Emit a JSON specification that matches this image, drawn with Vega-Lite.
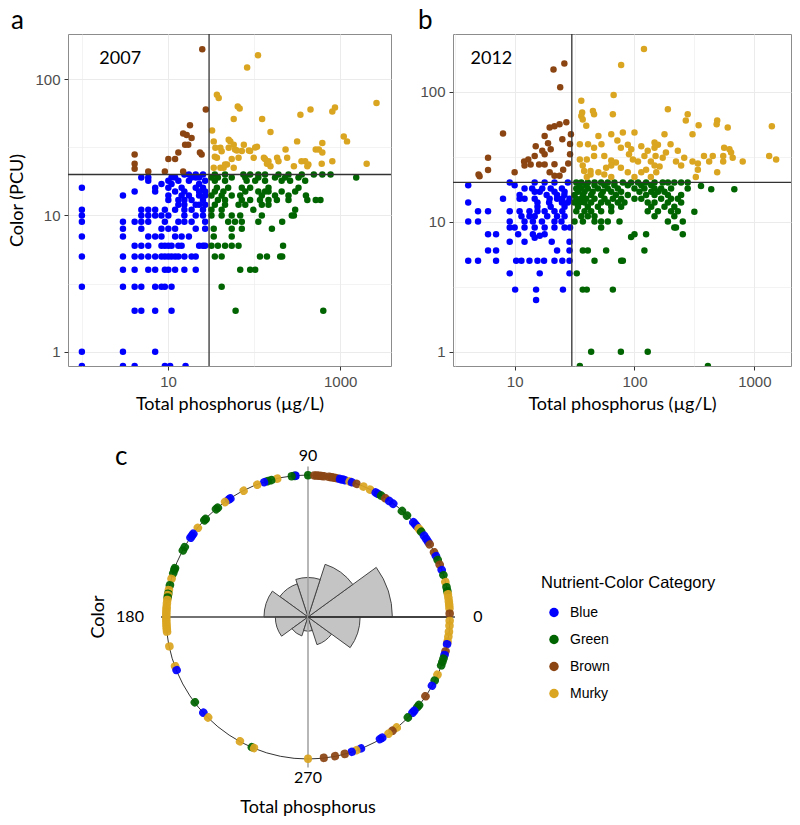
{
"$schema": "https://vega.github.io/schema/vega-lite/v6.json",
"padding": {"left": 8, "top": 7, "right": 0, "bottom": 0},
"background": "white",
"config": {
  "view": {"stroke": "#8C8C8C", "strokeWidth": 1},
  "axis": {"labelFont": "Liberation Sans", "labelFontSize": 15, "labelColor": "#4D4D4D", "titleFont": "Lato", "titleFontSize": 18, "titleFontWeight": "normal", "titleColor": "#000000", "gridColor": "#EBEBEB", "tickColor": "#333333", "tickSize": 4, "domain": false, "labelPadding": 4, "labelOverlap": false},
  "title": {"font": "Lato", "fontSize": 26, "fontWeight": "normal", "anchor": "start", "color": "#000000", "frame": "group"}
},
"resolve": {"legend": {"color": "independent"}},
"datasets": {
"a": [
{"tp":1,"pcu":16,"cat":"Blue"},{"tp":1,"pcu":11,"cat":"Blue"},{"tp":1,"pcu":10,"cat":"Blue"},{"tp":1,"pcu":9,"cat":"Blue"},{"tp":1,"pcu":7,"cat":"Blue"},{"tp":1,"pcu":5,"cat":"Blue"},{"tp":1,"pcu":3,"cat":"Blue"},{"tp":1,"pcu":1,"cat":"Blue"},{"tp":1,"pcu":0.785,"cat":"Blue"},
{"tp":3,"pcu":14,"cat":"Blue"},{"tp":3,"pcu":9,"cat":"Blue"},{"tp":3,"pcu":8,"cat":"Blue"},{"tp":3,"pcu":7,"cat":"Blue"},{"tp":3,"pcu":5,"cat":"Blue"},{"tp":3,"pcu":4,"cat":"Blue"},{"tp":3,"pcu":3,"cat":"Blue"},{"tp":3,"pcu":1,"cat":"Blue"},{"tp":3,"pcu":0.785,"cat":"Blue"},
{"tp":4.1,"pcu":15,"cat":"Blue"},{"tp":4.1,"pcu":9,"cat":"Blue"},{"tp":4.1,"pcu":6,"cat":"Blue"},{"tp":4.1,"pcu":5,"cat":"Blue"},{"tp":4.1,"pcu":4,"cat":"Blue"},{"tp":4.1,"pcu":3,"cat":"Blue"},{"tp":4.1,"pcu":2,"cat":"Blue"},{"tp":4.1,"pcu":0.785,"cat":"Blue"},
{"tp":4.9,"pcu":19,"cat":"Blue"},{"tp":4.9,"pcu":11,"cat":"Blue"},{"tp":4.9,"pcu":10,"cat":"Blue"},{"tp":4.9,"pcu":9,"cat":"Blue"},{"tp":4.9,"pcu":8,"cat":"Blue"},{"tp":4.9,"pcu":6,"cat":"Blue"},{"tp":4.9,"pcu":5,"cat":"Blue"},{"tp":4.9,"pcu":3,"cat":"Blue"},{"tp":4.9,"pcu":2,"cat":"Blue"},
{"tp":5.9,"pcu":19,"cat":"Blue"},{"tp":5.9,"pcu":18,"cat":"Blue"},{"tp":5.9,"pcu":11,"cat":"Blue"},{"tp":5.9,"pcu":10,"cat":"Blue"},{"tp":5.9,"pcu":9,"cat":"Blue"},{"tp":5.9,"pcu":7,"cat":"Blue"},{"tp":5.9,"pcu":6,"cat":"Blue"},{"tp":5.9,"pcu":5,"cat":"Blue"},{"tp":5.9,"pcu":4,"cat":"Blue"},
{"tp":7.1,"pcu":16,"cat":"Blue"},{"tp":7.1,"pcu":15,"cat":"Blue"},{"tp":7.1,"pcu":11,"cat":"Blue"},{"tp":7.1,"pcu":10,"cat":"Blue"},{"tp":7.1,"pcu":7,"cat":"Blue"},{"tp":7.1,"pcu":5,"cat":"Blue"},{"tp":7.1,"pcu":4,"cat":"Blue"},{"tp":7.1,"pcu":3,"cat":"Blue"},{"tp":7.1,"pcu":2,"cat":"Blue"},{"tp":7.1,"pcu":1,"cat":"Blue"},
{"tp":8.4,"pcu":17,"cat":"Blue"},{"tp":8.4,"pcu":10,"cat":"Blue"},{"tp":8.4,"pcu":8,"cat":"Blue"},{"tp":8.4,"pcu":7,"cat":"Blue"},{"tp":8.4,"pcu":6,"cat":"Blue"},{"tp":8.4,"pcu":5,"cat":"Blue"},{"tp":8.4,"pcu":3,"cat":"Blue"},
{"tp":9.2,"pcu":11,"cat":"Blue"},{"tp":9.2,"pcu":9,"cat":"Blue"},{"tp":9.2,"pcu":6,"cat":"Blue"},{"tp":9.2,"pcu":5,"cat":"Blue"},{"tp":9.2,"pcu":4,"cat":"Blue"},{"tp":9.2,"pcu":3,"cat":"Blue"},{"tp":9.2,"pcu":0.785,"cat":"Blue"},
{"tp":10.1,"pcu":18,"cat":"Blue"},{"tp":10.1,"pcu":16,"cat":"Blue"},{"tp":10.1,"pcu":14,"cat":"Blue"},{"tp":10.1,"pcu":13,"cat":"Blue"},{"tp":10.1,"pcu":10,"cat":"Blue"},{"tp":10.1,"pcu":8,"cat":"Blue"},{"tp":10.1,"pcu":6,"cat":"Blue"},{"tp":10.1,"pcu":5,"cat":"Blue"},{"tp":10.1,"pcu":4,"cat":"Blue"},{"tp":10.6,"pcu":0.785,"cat":"Blue"},
{"tp":11,"pcu":19,"cat":"Blue"},{"tp":11,"pcu":17,"cat":"Blue"},{"tp":11,"pcu":6,"cat":"Blue"},{"tp":11,"pcu":5,"cat":"Blue"},{"tp":11,"pcu":3,"cat":"Blue"},{"tp":11,"pcu":2,"cat":"Blue"},
{"tp":12.1,"pcu":19,"cat":"Blue"},{"tp":12.1,"pcu":15,"cat":"Blue"},{"tp":12.1,"pcu":11,"cat":"Blue"},{"tp":12.1,"pcu":8,"cat":"Blue"},{"tp":12.1,"pcu":7,"cat":"Blue"},{"tp":12.1,"pcu":5,"cat":"Blue"},{"tp":12.1,"pcu":4,"cat":"Blue"},
{"tp":13.2,"pcu":18,"cat":"Blue"},{"tp":13.2,"pcu":13,"cat":"Blue"},{"tp":13.2,"pcu":12,"cat":"Blue"},{"tp":13.2,"pcu":9,"cat":"Blue"},{"tp":13.2,"pcu":6,"cat":"Blue"},{"tp":13.2,"pcu":5,"cat":"Blue"},
{"tp":14.4,"pcu":16,"cat":"Blue"},{"tp":14.4,"pcu":14,"cat":"Blue"},{"tp":14.4,"pcu":7,"cat":"Blue"},{"tp":14.4,"pcu":6,"cat":"Blue"},
{"tp":15.5,"pcu":20,"cat":"Blue"},{"tp":15.5,"pcu":15,"cat":"Blue"},{"tp":15.5,"pcu":13,"cat":"Blue"},{"tp":15.5,"pcu":12,"cat":"Blue"},{"tp":15.5,"pcu":11,"cat":"Blue"},{"tp":15.5,"pcu":10,"cat":"Blue"},{"tp":15.5,"pcu":9,"cat":"Blue"},{"tp":15.5,"pcu":5,"cat":"Blue"},{"tp":15.5,"pcu":4,"cat":"Blue"},{"tp":16,"pcu":0.785,"cat":"Blue"},
{"tp":17.5,"pcu":20,"cat":"Blue"},{"tp":17.5,"pcu":18,"cat":"Blue"},{"tp":17.5,"pcu":14,"cat":"Blue"},{"tp":17.5,"pcu":7,"cat":"Blue"},
{"tp":18.8,"pcu":19,"cat":"Blue"},{"tp":18.8,"pcu":13,"cat":"Blue"},{"tp":18.8,"pcu":11,"cat":"Blue"},{"tp":18.8,"pcu":9,"cat":"Blue"},{"tp":18.8,"pcu":5,"cat":"Blue"},
{"tp":21,"pcu":20,"cat":"Blue"},{"tp":21,"pcu":19,"cat":"Blue"},{"tp":21,"pcu":16,"cat":"Blue"},{"tp":21,"pcu":12,"cat":"Blue"},{"tp":21,"pcu":10,"cat":"Blue"},{"tp":21,"pcu":8,"cat":"Blue"},{"tp":21,"pcu":5,"cat":"Blue"},{"tp":21,"pcu":4,"cat":"Blue"},
{"tp":23,"pcu":19,"cat":"Blue"},{"tp":23,"pcu":17,"cat":"Blue"},{"tp":23,"pcu":15,"cat":"Blue"},{"tp":23,"pcu":14,"cat":"Blue"},{"tp":23,"pcu":12,"cat":"Blue"},{"tp":23,"pcu":6,"cat":"Blue"},
{"tp":25.5,"pcu":20,"cat":"Blue"},{"tp":25.5,"pcu":16,"cat":"Blue"},{"tp":25.5,"pcu":13,"cat":"Blue"},{"tp":25.5,"pcu":11,"cat":"Blue"},{"tp":25.5,"pcu":10,"cat":"Blue"},{"tp":25.5,"pcu":6,"cat":"Blue"},
{"tp":27,"pcu":18,"cat":"Blue"},{"tp":27,"pcu":15,"cat":"Blue"},{"tp":27,"pcu":14,"cat":"Blue"},{"tp":27,"pcu":12,"cat":"Blue"},{"tp":27,"pcu":9,"cat":"Blue"},{"tp":27,"pcu":8,"cat":"Blue"},{"tp":27,"pcu":6,"cat":"Blue"},
{"tp":35,"pcu":20,"cat":"Green"},{"tp":46,"pcu":20,"cat":"Green"},{"tp":75,"pcu":20,"cat":"Green"},{"tp":90,"pcu":20,"cat":"Green"},{"tp":112,"pcu":20,"cat":"Green"},{"tp":134,"pcu":20,"cat":"Green"},{"tp":192,"pcu":20,"cat":"Green"},{"tp":251,"pcu":20,"cat":"Green"},{"tp":358,"pcu":20,"cat":"Green"},{"tp":494,"pcu":20,"cat":"Green"},{"tp":620,"pcu":20,"cat":"Green"},{"tp":773,"pcu":20,"cat":"Green"},
{"tp":32,"pcu":19,"cat":"Green"},{"tp":38,"pcu":19,"cat":"Green"},{"tp":55,"pcu":19,"cat":"Green"},{"tp":79,"pcu":19,"cat":"Green"},{"tp":112,"pcu":19,"cat":"Green"},{"tp":175,"pcu":19,"cat":"Green"},{"tp":229,"pcu":19,"cat":"Green"},{"tp":328,"pcu":19,"cat":"Green"},{"tp":1535,"pcu":19,"cat":"Green"},
{"tp":35,"pcu":18,"cat":"Green"},{"tp":46,"pcu":18,"cat":"Green"},{"tp":82,"pcu":18,"cat":"Green"},{"tp":103,"pcu":18,"cat":"Green"},{"tp":134,"pcu":18,"cat":"Green"},{"tp":209,"pcu":18,"cat":"Green"},{"tp":262,"pcu":18,"cat":"Green"},{"tp":392,"pcu":18,"cat":"Green"},
{"tp":37,"pcu":16,"cat":"Green"},{"tp":50,"pcu":16,"cat":"Green"},{"tp":72,"pcu":16,"cat":"Green"},{"tp":90,"pcu":16,"cat":"Green"},{"tp":147,"pcu":16,"cat":"Green"},{"tp":328,"pcu":16,"cat":"Green"},
{"tp":35,"pcu":15,"cat":"Green"},{"tp":44,"pcu":15,"cat":"Green"},{"tp":79,"pcu":15,"cat":"Green"},{"tp":112,"pcu":15,"cat":"Green"},{"tp":134,"pcu":15,"cat":"Green"},{"tp":147,"pcu":15,"cat":"Green"},{"tp":209,"pcu":15,"cat":"Green"},{"tp":300,"pcu":15,"cat":"Green"},
{"tp":32,"pcu":14,"cat":"Green"},{"tp":42,"pcu":14,"cat":"Green"},{"tp":55,"pcu":14,"cat":"Green"},{"tp":69,"pcu":14,"cat":"Green"},{"tp":123,"pcu":14,"cat":"Green"},{"tp":175,"pcu":14,"cat":"Green"},{"tp":251,"pcu":14,"cat":"Green"},{"tp":400,"pcu":14,"cat":"Green"},
{"tp":38,"pcu":13,"cat":"Green"},{"tp":46,"pcu":13,"cat":"Green"},{"tp":72,"pcu":13,"cat":"Green"},{"tp":90,"pcu":13,"cat":"Green"},{"tp":117,"pcu":13,"cat":"Green"},{"tp":147,"pcu":13,"cat":"Green"},{"tp":184,"pcu":13,"cat":"Green"},{"tp":251,"pcu":13,"cat":"Green"},{"tp":415,"pcu":13,"cat":"Green"},{"tp":520,"pcu":13,"cat":"Green"},{"tp":590,"pcu":13,"cat":"Green"},
{"tp":35,"pcu":12,"cat":"Green"},{"tp":46,"pcu":12,"cat":"Green"},{"tp":66,"pcu":12,"cat":"Green"},{"tp":79,"pcu":12,"cat":"Green"},{"tp":123,"pcu":12,"cat":"Green"},{"tp":147,"pcu":12,"cat":"Green"},
{"tp":32,"pcu":11,"cat":"Green"},{"tp":42,"pcu":11,"cat":"Green"},{"tp":98,"pcu":11,"cat":"Green"},{"tp":300,"pcu":11,"cat":"Green"},
{"tp":32,"pcu":10,"cat":"Green"},{"tp":42,"pcu":10,"cat":"Green"},{"tp":55,"pcu":10,"cat":"Green"},{"tp":69,"pcu":10,"cat":"Green"},{"tp":123,"pcu":10,"cat":"Green"},{"tp":274,"pcu":10,"cat":"Green"},{"tp":290,"pcu":10,"cat":"Green"},
{"tp":50,"pcu":9,"cat":"Green"},{"tp":60,"pcu":9,"cat":"Green"},{"tp":72,"pcu":9,"cat":"Green"},{"tp":112,"pcu":9,"cat":"Green"},{"tp":212,"pcu":9,"cat":"Green"},
{"tp":34,"pcu":8,"cat":"Green"},{"tp":55,"pcu":8,"cat":"Green"},{"tp":72,"pcu":8,"cat":"Green"},{"tp":161,"pcu":8,"cat":"Green"},
{"tp":34,"pcu":7,"cat":"Green"},{"tp":55,"pcu":7,"cat":"Green"},
{"tp":32,"pcu":6,"cat":"Green"},{"tp":38,"pcu":6,"cat":"Green"},{"tp":46,"pcu":6,"cat":"Green"},{"tp":55,"pcu":6,"cat":"Green"},{"tp":66,"pcu":6,"cat":"Green"},{"tp":217,"pcu":6,"cat":"Green"},
{"tp":35,"pcu":5,"cat":"Green"},{"tp":42,"pcu":5,"cat":"Green"},{"tp":117,"pcu":5,"cat":"Green"},{"tp":141,"pcu":5,"cat":"Green"},{"tp":201,"pcu":5,"cat":"Green"},{"tp":212,"pcu":5,"cat":"Green"},
{"tp":69,"pcu":4,"cat":"Green"},{"tp":90,"pcu":4,"cat":"Green"},{"tp":103,"pcu":4,"cat":"Green"},
{"tp":42,"pcu":3,"cat":"Green"},{"tp":61,"pcu":2,"cat":"Green"},{"tp":636,"pcu":2,"cat":"Green"},
{"tp":4.1,"pcu":28,"cat":"Brown"},{"tp":4.1,"pcu":24,"cat":"Brown"},{"tp":4.1,"pcu":22,"cat":"Brown"},{"tp":5.9,"pcu":21,"cat":"Brown"},{"tp":9.2,"pcu":21,"cat":"Brown"},{"tp":10.1,"pcu":26,"cat":"Brown"},{"tp":12.1,"pcu":26,"cat":"Brown"},{"tp":13.2,"pcu":29,"cat":"Brown"},{"tp":15,"pcu":21,"cat":"Brown"},{"tp":15.8,"pcu":33,"cat":"Brown"},{"tp":17.2,"pcu":33,"cat":"Brown"},{"tp":15,"pcu":40,"cat":"Brown"},{"tp":16.5,"pcu":39,"cat":"Brown"},{"tp":18.8,"pcu":37,"cat":"Brown"},{"tp":18,"pcu":46,"cat":"Brown"},{"tp":23.5,"pcu":29,"cat":"Brown"},{"tp":24.6,"pcu":28,"cat":"Brown"},{"tp":27.5,"pcu":60,"cat":"Brown"},{"tp":25,"pcu":166,"cat":"Brown"},
{"tp":38.8,"pcu":73,"cat":"Murky"},{"tp":37,"pcu":77,"cat":"Murky"},{"tp":83,"pcu":122,"cat":"Murky"},{"tp":111,"pcu":150,"cat":"Murky"},{"tp":64.6,"pcu":63,"cat":"Murky"},{"tp":68,"pcu":61,"cat":"Murky"},{"tp":58,"pcu":51,"cat":"Murky"},{"tp":124,"pcu":51,"cat":"Murky"},{"tp":32.5,"pcu":42,"cat":"Murky"},{"tp":50.7,"pcu":36,"cat":"Murky"},{"tp":53,"pcu":35,"cat":"Murky"},{"tp":155,"pcu":41,"cat":"Murky"},{"tp":316,"pcu":35,"cat":"Murky"},{"tp":345,"pcu":55,"cat":"Murky"},{"tp":452,"pcu":60,"cat":"Murky"},{"tp":810,"pcu":58,"cat":"Murky"},{"tp":870,"pcu":62,"cat":"Murky"},{"tp":2640,"pcu":67,"cat":"Murky"},{"tp":1100,"pcu":38,"cat":"Murky"},{"tp":1200,"pcu":35,"cat":"Murky"},{"tp":620,"pcu":34,"cat":"Murky"},{"tp":620,"pcu":29,"cat":"Murky"},{"tp":520,"pcu":30.5,"cat":"Murky"},{"tp":565,"pcu":30.5,"cat":"Murky"},{"tp":2030,"pcu":24,"cat":"Murky"},{"tp":810,"pcu":25,"cat":"Murky"},{"tp":610,"pcu":24,"cat":"Murky"},{"tp":415,"pcu":23,"cat":"Murky"},{"tp":355,"pcu":25,"cat":"Murky"},{"tp":232,"pcu":30.5,"cat":"Murky"},{"tp":185,"pcu":26.5,"cat":"Murky"},{"tp":141,"pcu":24,"cat":"Murky"},{"tp":155,"pcu":23,"cat":"Murky"},{"tp":108,"pcu":32,"cat":"Murky"},{"tp":76,"pcu":33,"cat":"Murky"},{"tp":99,"pcu":26.5,"cat":"Murky"},{"tp":130,"pcu":26.5,"cat":"Murky"},{"tp":63,"pcu":30,"cat":"Murky"},{"tp":66,"pcu":26.5,"cat":"Murky"},{"tp":50.7,"pcu":31.4,"cat":"Murky"},{"tp":40.6,"pcu":31.4,"cat":"Murky"},{"tp":35.5,"pcu":31.4,"cat":"Murky"},{"tp":37,"pcu":26.5,"cat":"Murky"},{"tp":40.6,"pcu":22.4,"cat":"Murky"},{"tp":34,"pcu":22.4,"cat":"Murky"},{"tp":44.3,"pcu":22.4,"cat":"Murky"},{"tp":48.5,"pcu":23.7,"cat":"Murky"},{"tp":58,"pcu":22.4,"cat":"Murky"},{"tp":34,"pcu":35,"cat":"Murky"},{"tp":58,"pcu":33,"cat":"Murky"},{"tp":87,"pcu":30,"cat":"Murky"},{"tp":242,"pcu":26.5,"cat":"Murky"},{"tp":290,"pcu":23,"cat":"Murky"},{"tp":42,"pcu":29.6,"cat":"Murky"},{"tp":35,"pcu":27,"cat":"Murky"},{"tp":46,"pcu":23.7,"cat":"Murky"},{"tp":55,"pcu":26,"cat":"Murky"},{"tp":60,"pcu":30.5,"cat":"Murky"},{"tp":72,"pcu":29.7,"cat":"Murky"},{"tp":90,"pcu":29.7,"cat":"Murky"},{"tp":103,"pcu":31.5,"cat":"Murky"},{"tp":134,"pcu":26,"cat":"Murky"},{"tp":147,"pcu":25,"cat":"Murky"},{"tp":192,"pcu":25,"cat":"Murky"},{"tp":427,"pcu":23.7,"cat":"Murky"},{"tp":392,"pcu":25,"cat":"Murky"}
],
"b": [
{"tp":9.1,"pcu":20,"cat":"Blue"},{"tp":14.7,"pcu":20,"cat":"Blue"},{"tp":17.8,"pcu":20,"cat":"Blue"},{"tp":21.5,"pcu":20,"cat":"Blue"},{"tp":27.8,"pcu":20,"cat":"Blue"},
{"tp":4.1,"pcu":19,"cat":"Blue"},{"tp":10,"pcu":19,"cat":"Blue"},
{"tp":12.1,"pcu":18,"cat":"Blue"},{"tp":14,"pcu":18,"cat":"Blue"},{"tp":17,"pcu":18,"cat":"Blue"},{"tp":20,"pcu":18,"cat":"Blue"},{"tp":24.8,"pcu":18,"cat":"Blue"},
{"tp":14.7,"pcu":17,"cat":"Blue"},{"tp":16.2,"pcu":17,"cat":"Blue"},{"tp":21.5,"pcu":17,"cat":"Blue"},{"tp":26.1,"pcu":17,"cat":"Blue"},
{"tp":11,"pcu":16,"cat":"Blue"},{"tp":18.5,"pcu":16,"cat":"Blue"},{"tp":22.6,"pcu":16,"cat":"Blue"},{"tp":26,"pcu":16,"cat":"Blue"},
{"tp":8,"pcu":15,"cat":"Blue"},{"tp":11,"pcu":15,"cat":"Blue"},{"tp":12.1,"pcu":15,"cat":"Blue"},{"tp":14.7,"pcu":15,"cat":"Blue"},{"tp":19.6,"pcu":15,"cat":"Blue"},{"tp":22.6,"pcu":15,"cat":"Blue"},{"tp":25,"pcu":15,"cat":"Blue"},{"tp":28.7,"pcu":15,"cat":"Blue"},
{"tp":4.1,"pcu":14,"cat":"Blue"},{"tp":15.5,"pcu":14,"cat":"Blue"},{"tp":19.4,"pcu":14,"cat":"Blue"},{"tp":24.8,"pcu":14,"cat":"Blue"},{"tp":27.8,"pcu":14,"cat":"Blue"},
{"tp":15.5,"pcu":13,"cat":"Blue"},{"tp":20,"pcu":13,"cat":"Blue"},{"tp":26.1,"pcu":13,"cat":"Blue"},
{"tp":4.95,"pcu":12,"cat":"Blue"},{"tp":6,"pcu":12,"cat":"Blue"},{"tp":9.1,"pcu":12,"cat":"Blue"},{"tp":11,"pcu":12,"cat":"Blue"},{"tp":13.3,"pcu":12,"cat":"Blue"},{"tp":15.5,"pcu":12,"cat":"Blue"},{"tp":17.8,"pcu":12,"cat":"Blue"},{"tp":21.5,"pcu":12,"cat":"Blue"},{"tp":25,"pcu":12,"cat":"Blue"},
{"tp":11.4,"pcu":11,"cat":"Blue"},{"tp":13.3,"pcu":11,"cat":"Blue"},{"tp":14.7,"pcu":11,"cat":"Blue"},{"tp":18.7,"pcu":11,"cat":"Blue"},{"tp":22.6,"pcu":11,"cat":"Blue"},{"tp":26.1,"pcu":11,"cat":"Blue"},
{"tp":4.1,"pcu":10,"cat":"Blue"},{"tp":4.95,"pcu":10,"cat":"Blue"},{"tp":9.1,"pcu":10,"cat":"Blue"},{"tp":12.1,"pcu":10,"cat":"Blue"},{"tp":14.2,"pcu":10,"cat":"Blue"},{"tp":16.9,"pcu":10,"cat":"Blue"},{"tp":21.5,"pcu":10,"cat":"Blue"},{"tp":24.6,"pcu":10,"cat":"Blue"},
{"tp":9.1,"pcu":9,"cat":"Blue"},{"tp":10,"pcu":9,"cat":"Blue"},{"tp":12.1,"pcu":9,"cat":"Blue"},{"tp":14.7,"pcu":9,"cat":"Blue"},{"tp":17.8,"pcu":9,"cat":"Blue"},{"tp":21.5,"pcu":9,"cat":"Blue"},{"tp":26.1,"pcu":9,"cat":"Blue"},{"tp":29,"pcu":9,"cat":"Blue"},
{"tp":6,"pcu":8,"cat":"Blue"},{"tp":7,"pcu":8,"cat":"Blue"},{"tp":10.7,"pcu":8,"cat":"Blue"},{"tp":14.2,"pcu":8,"cat":"Blue"},{"tp":17.8,"pcu":8,"cat":"Blue"},
{"tp":9.1,"pcu":7,"cat":"Blue"},{"tp":12.1,"pcu":7,"cat":"Blue"},{"tp":14.7,"pcu":7.5,"cat":"Blue"},{"tp":16.2,"pcu":7.8,"cat":"Blue"},{"tp":20.4,"pcu":7,"cat":"Blue"},{"tp":28.7,"pcu":7,"cat":"Blue"},
{"tp":6,"pcu":6,"cat":"Blue"},{"tp":7,"pcu":6,"cat":"Blue"},{"tp":22.6,"pcu":6,"cat":"Blue"},{"tp":28.7,"pcu":6,"cat":"Blue"},
{"tp":4.1,"pcu":5,"cat":"Blue"},{"tp":4.95,"pcu":5,"cat":"Blue"},{"tp":7,"pcu":5,"cat":"Blue"},{"tp":10.3,"pcu":5,"cat":"Blue"},{"tp":11.4,"pcu":5,"cat":"Blue"},{"tp":13.3,"pcu":5,"cat":"Blue"},{"tp":15.5,"pcu":5,"cat":"Blue"},{"tp":17.6,"pcu":5,"cat":"Blue"},{"tp":21.5,"pcu":5,"cat":"Blue"},{"tp":25,"pcu":5,"cat":"Blue"},{"tp":28.7,"pcu":5,"cat":"Blue"},
{"tp":9.1,"pcu":4,"cat":"Blue"},{"tp":16.2,"pcu":4,"cat":"Blue"},{"tp":28.7,"pcu":4,"cat":"Blue"},
{"tp":10.1,"pcu":3,"cat":"Blue"},{"tp":15.1,"pcu":3,"cat":"Blue"},{"tp":25.3,"pcu":3,"cat":"Blue"},{"tp":15.1,"pcu":2.5,"cat":"Blue"},
{"tp":32.7,"pcu":20,"cat":"Green"},{"tp":36,"pcu":20,"cat":"Green"},{"tp":40.8,"pcu":20,"cat":"Green"},{"tp":46.4,"pcu":20,"cat":"Green"},{"tp":52.7,"pcu":20,"cat":"Green"},{"tp":59.9,"pcu":20,"cat":"Green"},{"tp":68,"pcu":20,"cat":"Green"},{"tp":80,"pcu":20,"cat":"Green"},{"tp":93.7,"pcu":20,"cat":"Green"},{"tp":107,"pcu":20,"cat":"Green"},{"tp":125,"pcu":20,"cat":"Green"},{"tp":147,"pcu":20,"cat":"Green"},{"tp":172,"pcu":20,"cat":"Green"},{"tp":190,"pcu":20,"cat":"Green"},{"tp":215,"pcu":20,"cat":"Green"},{"tp":245,"pcu":20,"cat":"Green"},{"tp":278,"pcu":20,"cat":"Green"},
{"tp":34.8,"pcu":19,"cat":"Green"},{"tp":39.6,"pcu":19,"cat":"Green"},{"tp":46.4,"pcu":19,"cat":"Green"},{"tp":56.2,"pcu":19,"cat":"Green"},{"tp":68,"pcu":19,"cat":"Green"},{"tp":88,"pcu":19,"cat":"Green"},{"tp":114,"pcu":19,"cat":"Green"},{"tp":138,"pcu":19,"cat":"Green"},{"tp":359,"pcu":18.8,"cat":"Green"},
{"tp":32.7,"pcu":18,"cat":"Green"},{"tp":36,"pcu":18,"cat":"Green"},{"tp":40.8,"pcu":18,"cat":"Green"},{"tp":49.5,"pcu":18,"cat":"Green"},{"tp":59.9,"pcu":18,"cat":"Green"},{"tp":72.6,"pcu":18,"cat":"Green"},{"tp":100,"pcu":18,"cat":"Green"},{"tp":121,"pcu":18,"cat":"Green"},{"tp":147,"pcu":18,"cat":"Green"},{"tp":167,"pcu":18,"cat":"Green"},{"tp":202,"pcu":18,"cat":"Green"},{"tp":278,"pcu":18,"cat":"Green"},{"tp":437,"pcu":17.7,"cat":"Green"},{"tp":681,"pcu":17.7,"cat":"Green"},
{"tp":33.8,"pcu":17,"cat":"Green"},{"tp":38.3,"pcu":17,"cat":"Green"},{"tp":44.8,"pcu":17,"cat":"Green"},{"tp":54.4,"pcu":17,"cat":"Green"},{"tp":64,"pcu":17,"cat":"Green"},{"tp":77.4,"pcu":17,"cat":"Green"},{"tp":110,"pcu":17,"cat":"Green"},{"tp":138,"pcu":17,"cat":"Green"},{"tp":157,"pcu":17,"cat":"Green"},{"tp":178,"pcu":17,"cat":"Green"},
{"tp":31.6,"pcu":16,"cat":"Green"},{"tp":37.1,"pcu":16,"cat":"Green"},{"tp":43.5,"pcu":16,"cat":"Green"},{"tp":52.7,"pcu":16,"cat":"Green"},{"tp":70,"pcu":16,"cat":"Green"},{"tp":88,"pcu":16,"cat":"Green"},{"tp":125,"pcu":16,"cat":"Green"},{"tp":147,"pcu":16,"cat":"Green"},{"tp":190,"pcu":16,"cat":"Green"},{"tp":245,"pcu":16,"cat":"Green"},
{"tp":32.7,"pcu":15,"cat":"Green"},{"tp":36,"pcu":15,"cat":"Green"},{"tp":39.6,"pcu":15,"cat":"Green"},{"tp":46.4,"pcu":15,"cat":"Green"},{"tp":56.2,"pcu":15,"cat":"Green"},{"tp":66,"pcu":15,"cat":"Green"},{"tp":77.4,"pcu":15,"cat":"Green"},{"tp":100,"pcu":15,"cat":"Green"},{"tp":114,"pcu":15,"cat":"Green"},{"tp":167,"pcu":15,"cat":"Green"},{"tp":202,"pcu":15,"cat":"Green"},{"tp":230,"pcu":15,"cat":"Green"},
{"tp":31.6,"pcu":14,"cat":"Green"},{"tp":34.8,"pcu":14,"cat":"Green"},{"tp":38.3,"pcu":14,"cat":"Green"},{"tp":43.5,"pcu":14,"cat":"Green"},{"tp":52.7,"pcu":14,"cat":"Green"},{"tp":59.9,"pcu":14,"cat":"Green"},{"tp":72.6,"pcu":14,"cat":"Green"},{"tp":82.5,"pcu":14,"cat":"Green"},{"tp":129,"pcu":14,"cat":"Green"},{"tp":147,"pcu":14,"cat":"Green"},{"tp":190,"pcu":14,"cat":"Green"},{"tp":245,"pcu":14,"cat":"Green"},
{"tp":33.8,"pcu":13,"cat":"Green"},{"tp":40.8,"pcu":13,"cat":"Green"},{"tp":49.5,"pcu":13,"cat":"Green"},{"tp":64,"pcu":13,"cat":"Green"},{"tp":77.4,"pcu":13,"cat":"Green"},{"tp":138,"pcu":13,"cat":"Green"},{"tp":178,"pcu":13,"cat":"Green"},{"tp":215,"pcu":13,"cat":"Green"},
{"tp":32.7,"pcu":12,"cat":"Green"},{"tp":38.3,"pcu":12,"cat":"Green"},{"tp":43.5,"pcu":12,"cat":"Green"},{"tp":52.7,"pcu":12,"cat":"Green"},{"tp":64,"pcu":12,"cat":"Green"},{"tp":129,"pcu":12,"cat":"Green"},{"tp":157,"pcu":12,"cat":"Green"},{"tp":202,"pcu":12,"cat":"Green"},{"tp":230,"pcu":12,"cat":"Green"},{"tp":316,"pcu":11.9,"cat":"Green"},
{"tp":36,"pcu":11,"cat":"Green"},{"tp":40.8,"pcu":11,"cat":"Green"},{"tp":46.4,"pcu":11,"cat":"Green"},{"tp":147,"pcu":11,"cat":"Green"},{"tp":215,"pcu":11,"cat":"Green"},
{"tp":31.6,"pcu":10,"cat":"Green"},{"tp":37.1,"pcu":10,"cat":"Green"},{"tp":46.4,"pcu":10,"cat":"Green"},{"tp":52.7,"pcu":10,"cat":"Green"},{"tp":59.9,"pcu":10,"cat":"Green"},{"tp":75,"pcu":10,"cat":"Green"},{"tp":190,"pcu":10,"cat":"Green"},{"tp":253,"pcu":10,"cat":"Green"},
{"tp":52.7,"pcu":9,"cat":"Green"},{"tp":215,"pcu":9,"cat":"Green"},{"tp":222,"pcu":9,"cat":"Green"},
{"tp":93.7,"pcu":7.6,"cat":"Green"},{"tp":100,"pcu":8,"cat":"Green"},{"tp":125,"pcu":8,"cat":"Green"},{"tp":253,"pcu":8,"cat":"Green"},
{"tp":37.1,"pcu":6,"cat":"Green"},{"tp":40.8,"pcu":6,"cat":"Green"},{"tp":58,"pcu":6,"cat":"Green"},{"tp":121,"pcu":6,"cat":"Green"},
{"tp":46.4,"pcu":5,"cat":"Green"},{"tp":77.4,"pcu":5,"cat":"Green"},{"tp":80,"pcu":5,"cat":"Green"},{"tp":33,"pcu":4,"cat":"Green"},
{"tp":37,"pcu":3,"cat":"Green"},{"tp":40,"pcu":3,"cat":"Green"},{"tp":66,"pcu":3,"cat":"Green"},
{"tp":43.5,"pcu":1,"cat":"Green"},{"tp":77,"pcu":1,"cat":"Green"},{"tp":129,"pcu":1,"cat":"Green"},{"tp":35,"pcu":0.776,"cat":"Green"},{"tp":410,"pcu":0.776,"cat":"Green"},
{"tp":8,"pcu":47.5,"cat":"Brown"},{"tp":6,"pcu":31,"cat":"Brown"},{"tp":6,"pcu":24.9,"cat":"Brown"},{"tp":5,"pcu":23,"cat":"Brown"},{"tp":5.1,"pcu":22.3,"cat":"Brown"},{"tp":10,"pcu":24,"cat":"Brown"},{"tp":12,"pcu":29,"cat":"Brown"},{"tp":13,"pcu":30,"cat":"Brown"},{"tp":14.7,"pcu":32,"cat":"Brown"},{"tp":12.1,"pcu":27,"cat":"Brown"},{"tp":13.6,"pcu":27.5,"cat":"Brown"},{"tp":15,"pcu":38,"cat":"Brown"},{"tp":17.8,"pcu":45.6,"cat":"Brown"},{"tp":19.6,"pcu":53,"cat":"Brown"},{"tp":21.5,"pcu":54,"cat":"Brown"},{"tp":23.7,"pcu":56,"cat":"Brown"},{"tp":27,"pcu":58,"cat":"Brown"},{"tp":19,"pcu":40,"cat":"Brown"},{"tp":20,"pcu":36,"cat":"Brown"},{"tp":17,"pcu":35,"cat":"Brown"},{"tp":17.8,"pcu":33,"cat":"Brown"},{"tp":21.5,"pcu":27.6,"cat":"Brown"},{"tp":25.4,"pcu":25,"cat":"Brown"},{"tp":28,"pcu":28,"cat":"Brown"},{"tp":29,"pcu":33,"cat":"Brown"},{"tp":29,"pcu":39.5,"cat":"Brown"},{"tp":29.5,"pcu":47,"cat":"Brown"},{"tp":19.6,"pcu":24,"cat":"Brown"},{"tp":21.5,"pcu":22.5,"cat":"Brown"},{"tp":23.7,"pcu":22.5,"cat":"Brown"},{"tp":16,"pcu":27.5,"cat":"Brown"},{"tp":17.8,"pcu":27.5,"cat":"Brown"},{"tp":25,"pcu":43,"cat":"Brown"},{"tp":21.1,"pcu":148,"cat":"Brown"},{"tp":26,"pcu":164,"cat":"Brown"},{"tp":24,"pcu":108,"cat":"Brown"},
{"tp":36,"pcu":65,"cat":"Murky"},{"tp":39.6,"pcu":54.6,"cat":"Murky"},{"tp":46,"pcu":67,"cat":"Murky"},{"tp":66,"pcu":67,"cat":"Murky"},{"tp":35,"pcu":39.3,"cat":"Murky"},{"tp":41,"pcu":39.3,"cat":"Murky"},{"tp":46,"pcu":37,"cat":"Murky"},{"tp":53,"pcu":39.3,"cat":"Murky"},{"tp":50,"pcu":45.6,"cat":"Murky"},{"tp":64,"pcu":47,"cat":"Murky"},{"tp":80,"pcu":48.5,"cat":"Murky"},{"tp":100,"pcu":48.5,"cat":"Murky"},{"tp":72,"pcu":42,"cat":"Murky"},{"tp":35,"pcu":30,"cat":"Murky"},{"tp":40,"pcu":30,"cat":"Murky"},{"tp":46,"pcu":32,"cat":"Murky"},{"tp":56,"pcu":32,"cat":"Murky"},{"tp":64,"pcu":29.5,"cat":"Murky"},{"tp":70,"pcu":28.5,"cat":"Murky"},{"tp":37,"pcu":27,"cat":"Murky"},{"tp":38,"pcu":24.5,"cat":"Murky"},{"tp":43,"pcu":24.5,"cat":"Murky"},{"tp":50,"pcu":24,"cat":"Murky"},{"tp":58,"pcu":26,"cat":"Murky"},{"tp":64,"pcu":27,"cat":"Murky"},{"tp":77,"pcu":37,"cat":"Murky"},{"tp":88,"pcu":39,"cat":"Murky"},{"tp":94,"pcu":36,"cat":"Murky"},{"tp":114,"pcu":38,"cat":"Murky"},{"tp":129,"pcu":35,"cat":"Murky"},{"tp":147,"pcu":40.5,"cat":"Murky"},{"tp":157,"pcu":39,"cat":"Murky"},{"tp":90,"pcu":33,"cat":"Murky"},{"tp":97,"pcu":30,"cat":"Murky"},{"tp":107,"pcu":29,"cat":"Murky"},{"tp":121,"pcu":32,"cat":"Murky"},{"tp":77,"pcu":26,"cat":"Murky"},{"tp":88,"pcu":24,"cat":"Murky"},{"tp":100,"pcu":22,"cat":"Murky"},{"tp":114,"pcu":24,"cat":"Murky"},{"tp":125,"pcu":25,"cat":"Murky"},{"tp":137,"pcu":22,"cat":"Murky"},{"tp":152,"pcu":24,"cat":"Murky"},{"tp":162,"pcu":26.5,"cat":"Murky"},{"tp":172,"pcu":31,"cat":"Murky"},{"tp":183,"pcu":34,"cat":"Murky"},{"tp":200,"pcu":39.3,"cat":"Murky"},{"tp":245,"pcu":27,"cat":"Murky"},{"tp":178,"pcu":47,"cat":"Murky"},{"tp":137,"pcu":29,"cat":"Murky"},{"tp":147,"pcu":27,"cat":"Murky"},{"tp":40,"pcu":22,"cat":"Murky"},{"tp":43,"pcu":23,"cat":"Murky"},{"tp":56,"pcu":23,"cat":"Murky"},{"tp":64,"pcu":22,"cat":"Murky"},
{"tp":120,"pcu":212,"cat":"Murky"},{"tp":77.4,"pcu":160,"cat":"Murky"},{"tp":67,"pcu":94,"cat":"Murky"},{"tp":36,"pcu":85,"cat":"Murky"},{"tp":36.6,"pcu":69,"cat":"Murky"},{"tp":37,"pcu":61,"cat":"Murky"},{"tp":45,"pcu":71,"cat":"Murky"},{"tp":190,"pcu":73,"cat":"Murky"},{"tp":278,"pcu":67,"cat":"Murky"},{"tp":268,"pcu":60,"cat":"Murky"},{"tp":305,"pcu":47,"cat":"Murky"},{"tp":343,"pcu":55,"cat":"Murky"},{"tp":490,"pcu":60,"cat":"Murky"},{"tp":485,"pcu":56,"cat":"Murky"},{"tp":600,"pcu":53,"cat":"Murky"},{"tp":1400,"pcu":54,"cat":"Murky"},{"tp":1330,"pcu":32,"cat":"Murky"},{"tp":1520,"pcu":30,"cat":"Murky"},{"tp":800,"pcu":29,"cat":"Murky"},{"tp":660,"pcu":31,"cat":"Murky"},{"tp":560,"pcu":37,"cat":"Murky"},{"tp":620,"pcu":36,"cat":"Murky"},{"tp":640,"pcu":34,"cat":"Murky"},{"tp":550,"pcu":32,"cat":"Murky"},{"tp":450,"pcu":32,"cat":"Murky"},{"tp":420,"pcu":29,"cat":"Murky"},{"tp":380,"pcu":32,"cat":"Murky"},{"tp":338,"pcu":28,"cat":"Murky"},{"tp":338,"pcu":25,"cat":"Murky"},{"tp":325,"pcu":22,"cat":"Murky"},{"tp":490,"pcu":24,"cat":"Murky"},{"tp":550,"pcu":29,"cat":"Murky"},{"tp":305,"pcu":29,"cat":"Murky"},{"tp":260,"pcu":31,"cat":"Murky"},{"tp":230,"pcu":35,"cat":"Murky"},{"tp":222,"pcu":29,"cat":"Murky"},{"tp":147,"pcu":37,"cat":"Murky"},{"tp":150,"pcu":32,"cat":"Murky"}
],
"rose": [
{"a0":0,"a1":36,"len":0.594},{"a0":36,"a1":72,"len":0.39},{"a0":72,"a1":108,"len":0.278},{"a0":108,"a1":144,"len":0.245},{"a0":144,"a1":180,"len":0.31},{"a0":180,"a1":216,"len":0.23},{"a0":216,"a1":252,"len":0.14},{"a0":252,"a1":288,"len":0.1},{"a0":288,"a1":324,"len":0.205},{"a0":324,"a1":360,"len":0.367}
],
"circ": [
{"ang":90,"cat":"Green"},{"ang":87.5,"cat":"Brown"},{"ang":86.5,"cat":"Brown"},{"ang":85.5,"cat":"Brown"},{"ang":84.5,"cat":"Brown"},{"ang":83.5,"cat":"Brown"},{"ang":81.5,"cat":"Brown"},{"ang":80.5,"cat":"Brown"},{"ang":79.5,"cat":"Brown"},{"ang":78.5,"cat":"Brown"},{"ang":77,"cat":"Blue"},{"ang":76,"cat":"Blue"},{"ang":75,"cat":"Blue"},{"ang":73,"cat":"Murky"},{"ang":72,"cat":"Blue"},{"ang":70,"cat":"Brown"},{"ang":67,"cat":"Murky"},{"ang":64,"cat":"Murky"},{"ang":61.5,"cat":"Blue"},{"ang":60.5,"cat":"Blue"},{"ang":59,"cat":"Green"},{"ang":57,"cat":"Brown"},{"ang":55,"cat":"Blue"},{"ang":53,"cat":"Blue"},{"ang":48.5,"cat":"Green"},{"ang":45.7,"cat":"Green"},{"ang":42,"cat":"Blue"},{"ang":41,"cat":"Blue"},{"ang":40,"cat":"Blue"},{"ang":38.7,"cat":"Murky"},{"ang":37.8,"cat":"Murky"},{"ang":37,"cat":"Green"},{"ang":35,"cat":"Blue"},{"ang":33.5,"cat":"Blue"},{"ang":32,"cat":"Blue"},{"ang":30.8,"cat":"Brown"},{"ang":27.2,"cat":"Brown"},{"ang":25.5,"cat":"Blue"},{"ang":23.8,"cat":"Green"},{"ang":21.7,"cat":"Brown"},{"ang":19.4,"cat":"Blue"},{"ang":17.2,"cat":"Green"},{"ang":14.3,"cat":"Murky"},{"ang":12.2,"cat":"Green"},{"ang":10.5,"cat":"Green"},{"ang":9.3,"cat":"Murky"},{"ang":7.8,"cat":"Murky"},{"ang":6.3,"cat":"Murky"},{"ang":4.9,"cat":"Murky"},{"ang":3.5,"cat":"Murky"},{"ang":1.4,"cat":"Brown"},
{"ang":358.5,"cat":"Murky"},{"ang":356.5,"cat":"Murky"},{"ang":354,"cat":"Murky"},{"ang":352,"cat":"Murky"},{"ang":350,"cat":"Murky"},{"ang":349,"cat":"Blue"},{"ang":346,"cat":"Brown"},{"ang":344.5,"cat":"Blue"},{"ang":343,"cat":"Green"},{"ang":341.5,"cat":"Green"},{"ang":340,"cat":"Green"},{"ang":336,"cat":"Murky"},{"ang":333.4,"cat":"Green"},{"ang":331,"cat":"Blue"},{"ang":326,"cat":"Brown"},{"ang":321.6,"cat":"Green"},{"ang":320.5,"cat":"Green"},{"ang":318.6,"cat":"Blue"},{"ang":317.5,"cat":"Blue"},{"ang":314.8,"cat":"Green"},{"ang":308.8,"cat":"Murky"},{"ang":306.6,"cat":"Brown"},{"ang":304.6,"cat":"Murky"},{"ang":301.6,"cat":"Blue"},{"ang":300.5,"cat":"Blue"},{"ang":292,"cat":"Blue"},{"ang":290,"cat":"Murky"},{"ang":288,"cat":"Blue"},{"ang":285,"cat":"Brown"},{"ang":281,"cat":"Brown"},{"ang":276.4,"cat":"Brown"},{"ang":270,"cat":"Murky"},
{"ang":95.3,"cat":"Green"},{"ang":95,"cat":"Blue"},{"ang":96.6,"cat":"Green"},{"ang":102.5,"cat":"Murky"},{"ang":105,"cat":"Green"},{"ang":106.5,"cat":"Green"},{"ang":108,"cat":"Blue"},{"ang":111,"cat":"Murky"},{"ang":117,"cat":"Murky"},{"ang":123.2,"cat":"Blue"},{"ang":124,"cat":"Blue"},{"ang":125.8,"cat":"Murky"},{"ang":129.5,"cat":"Green"},{"ang":130.5,"cat":"Green"},{"ang":136.2,"cat":"Green"},{"ang":137,"cat":"Green"},{"ang":141,"cat":"Murky"},{"ang":144,"cat":"Blue"},{"ang":145,"cat":"Blue"},{"ang":146,"cat":"Blue"},{"ang":150.4,"cat":"Green"},{"ang":152,"cat":"Green"},{"ang":159.8,"cat":"Green"},{"ang":160.5,"cat":"Green"},{"ang":162,"cat":"Green"},{"ang":164.3,"cat":"Murky"},{"ang":167,"cat":"Green"},{"ang":169,"cat":"Murky"},{"ang":170.5,"cat":"Green"},{"ang":171,"cat":"Murky"},{"ang":172,"cat":"Green"},{"ang":173,"cat":"Murky"},{"ang":174.5,"cat":"Murky"},{"ang":176,"cat":"Murky"},{"ang":177,"cat":"Murky"},{"ang":178,"cat":"Murky"},{"ang":179,"cat":"Murky"},
{"ang":180,"cat":"Murky"},{"ang":181,"cat":"Murky"},{"ang":182,"cat":"Murky"},{"ang":183,"cat":"Murky"},{"ang":184,"cat":"Murky"},{"ang":185,"cat":"Murky"},{"ang":186,"cat":"Murky"},{"ang":192,"cat":"Murky"},{"ang":200.3,"cat":"Murky"},{"ang":202,"cat":"Blue"},{"ang":217,"cat":"Green"},{"ang":222.4,"cat":"Blue"},{"ang":225.2,"cat":"Murky"},{"ang":241.3,"cat":"Murky"},{"ang":246.6,"cat":"Green"},{"ang":247.6,"cat":"Murky"}
]
},
"vconcat": [
 {
  "hconcat": [
   {
    "width": 323, "height": 332,
    "title": {"text": "a", "dx": -57, "offset": -1},
    "data": {"name": "a"},
    "layer": [
     {"mark": {"type": "circle", "size": 42, "opacity": 1, "clip": true},
      "encoding": {
       "x": {"field": "tp", "type": "quantitative", "scale": {"type": "log", "domain": [0.69, 3890], "nice": false},
             "axis": {"title": "Total phosphorus (µg/L)", "values": [1, 10, 100, 1000], "format": "d", "titlePadding": 6,
                      "labelExpr": "(datum.value == 10 || datum.value == 1000) ? datum.label : ''",
                      "tickOpacity": {"condition": {"test": "datum.value == 10 || datum.value == 1000", "value": 1}, "value": 0},
                      "gridWidth": {"condition": {"test": "datum.value == 10 || datum.value == 1000", "value": 1}, "value": 0.6}}},
       "y": {"field": "pcu", "type": "quantitative", "scale": {"type": "log", "domain": [0.785, 215], "nice": false},
             "axis": {"title": "Color (PCU)", "values": [1, 3.1623, 10, 31.623, 100], "format": "d", "titlePadding": 8,
                      "labelExpr": "(datum.value == 1 || datum.value == 10 || datum.value == 100) ? datum.label : ''",
                      "tickOpacity": {"condition": {"test": "datum.value == 1 || datum.value == 10 || datum.value == 100", "value": 1}, "value": 0},
                      "gridWidth": {"condition": {"test": "datum.value == 1 || datum.value == 10 || datum.value == 100", "value": 1}, "value": 0.6}}},
       "color": {"field": "cat", "type": "nominal", "scale": {"domain": ["Blue", "Green", "Brown", "Murky"], "range": ["#0000FF", "#006400", "#8B4513", "#DAA520"]}, "legend": null}
      }},
     {"data": {"values": [{}]}, "mark": {"type": "rule", "color": "#333333", "strokeWidth": 1.3}, "encoding": {"x": {"datum": 30}}},
     {"data": {"values": [{}]}, "mark": {"type": "rule", "color": "#333333", "strokeWidth": 1.3}, "encoding": {"y": {"datum": 20}}},
     {"data": {"values": [{"label": "2007"}]}, "mark": {"type": "text", "font": "Lato", "fontSize": 18, "color": "#000000", "align": "center", "baseline": "middle"},
      "encoding": {"x": {"datum": 2.79}, "y": {"datum": 140}, "text": {"field": "label"}}}
    ]
   },
   {
    "width": 338, "height": 332,
    "title": {"text": "b", "dx": -35, "offset": -1},
    "data": {"name": "b"},
    "layer": [
     {"mark": {"type": "circle", "size": 42, "opacity": 1, "clip": true},
      "encoding": {
       "x": {"field": "tp", "type": "quantitative", "scale": {"type": "log", "domain": [3.06, 2023], "nice": false},
             "axis": {"title": "Total phosphorus (µg/L)", "values": [3.1623, 10, 31.623, 100, 316.23, 1000], "format": "d", "titlePadding": 6,
                      "labelExpr": "(datum.value == 10 || datum.value == 100 || datum.value == 1000) ? datum.label : ''",
                      "tickOpacity": {"condition": {"test": "datum.value == 10 || datum.value == 100 || datum.value == 1000", "value": 1}, "value": 0},
                      "gridWidth": {"condition": {"test": "datum.value == 10 || datum.value == 100 || datum.value == 1000", "value": 1}, "value": 0.6}}},
       "y": {"field": "pcu", "type": "quantitative", "scale": {"type": "log", "domain": [0.776, 277], "nice": false},
             "axis": {"title": null, "values": [1, 3.1623, 10, 31.623, 100], "format": "d",
                      "labelExpr": "(datum.value == 1 || datum.value == 10 || datum.value == 100) ? datum.label : ''",
                      "tickOpacity": {"condition": {"test": "datum.value == 1 || datum.value == 10 || datum.value == 100", "value": 1}, "value": 0},
                      "gridWidth": {"condition": {"test": "datum.value == 1 || datum.value == 10 || datum.value == 100", "value": 1}, "value": 0.6}}},
       "color": {"field": "cat", "type": "nominal", "scale": {"domain": ["Blue", "Green", "Brown", "Murky"], "range": ["#0000FF", "#006400", "#8B4513", "#DAA520"]}, "legend": null}
      }},
     {"data": {"values": [{}]}, "mark": {"type": "rule", "color": "#333333", "strokeWidth": 1.3}, "encoding": {"x": {"datum": 30}}},
     {"data": {"values": [{}]}, "mark": {"type": "rule", "color": "#333333", "strokeWidth": 1.3}, "encoding": {"y": {"datum": 20}}},
     {"data": {"values": [{"label": "2012"}]}, "mark": {"type": "text", "font": "Lato", "fontSize": 18, "color": "#000000", "align": "center", "baseline": "middle"},
      "encoding": {"x": {"datum": 6.4}, "y": {"datum": 178}, "text": {"field": "label"}}}
    ]
   }
  ],
  "spacing": 24
 },
 {
  "width": 480, "height": 240,
  "view": {"stroke": null},
  "title": {"text": "c", "dx": 47, "dy": 26, "offset": 4},
  "layer": [
   {"data": {"name": "rose"},
    "mark": {"type": "arc", "fill": "#C4C4C4", "stroke": "#444444", "strokeWidth": 1},
    "encoding": {
     "theta": {"field": "a0", "type": "quantitative", "stack": false, "scale": {"type": "linear", "domain": [0, 360], "range": [1.5707963, -4.712389], "zero": false}},
     "theta2": {"field": "a1"},
     "radius": {"field": "len", "type": "quantitative", "scale": {"type": "linear", "domain": [0, 1], "range": [0, 142], "zero": true}}
    }},
   {"data": {"values": [{"ang": 0}, {"ang": 180}]},
    "mark": {"type": "arc", "stroke": "#444444", "strokeWidth": 1.3, "fill": null, "filled": false},
    "encoding": {"theta": {"field": "ang", "type": "quantitative", "stack": false}, "theta2": {"field": "ang"}, "radius": {"datum": 1.035}}},
   {"data": {"values": [{"ang": 90}, {"ang": 270}]},
    "mark": {"type": "arc", "stroke": "#A0A0A0", "strokeWidth": 1.5, "fill": null, "filled": false},
    "encoding": {"theta": {"field": "ang", "type": "quantitative", "stack": false}, "theta2": {"field": "ang"}, "radius": {"datum": 1.06}}},
   {"data": {"values": [{}]},
    "mark": {"type": "arc", "stroke": "#333333", "strokeWidth": 1, "fill": null, "filled": false},
    "encoding": {"theta": {"datum": 0}, "theta2": {"datum": 360}, "radius": {"datum": 1}}},
   {"data": {"name": "circ"},
    "mark": {"type": "arc", "strokeWidth": 8, "strokeCap": "round", "strokeJoin": "round", "opacity": 0.93},
    "encoding": {
     "theta": {"field": "ang", "type": "quantitative", "stack": false},
     "theta2": {"field": "ang"},
     "radius": {"datum": 1},
     "radius2": {"datum": 0.996},
     "stroke": {"field": "cat", "type": "nominal", "scale": {"domain": ["Blue", "Green", "Brown", "Murky"], "range": ["#0000FF", "#006400", "#8B4513", "#DAA520"]}, "legend": null},
     "color": {"field": "cat", "type": "nominal", "scale": {"domain": ["Blue", "Green", "Brown", "Murky"], "range": ["#0000FF", "#006400", "#8B4513", "#DAA520"]},
               "legend": {"title": "Nutrient-Color Category", "orient": "none", "legendX": 473, "legendY": 78, "titleFont": "Liberation Sans", "titleFontSize": 16.5, "titleFontWeight": "normal", "titleColor": "#000000", "titlePadding": 14, "labelFont": "Liberation Sans", "labelFontSize": 14, "labelColor": "#000000", "labelOffset": 9, "symbolType": "circle", "symbolSize": 90, "symbolOpacity": 1, "symbolStrokeWidth": 0, "symbolOffset": 6, "rowPadding": 13}}
    }},
   {"data": {"values": [{"t": "90"}]}, "mark": {"type": "text", "font": "Lato", "fontSize": 16, "radius": 161, "align": "center", "baseline": "middle", "color": "#000000"},
    "encoding": {"theta": {"datum": 90}, "text": {"field": "t"}}},
   {"data": {"values": [{"t": "0"}]}, "mark": {"type": "text", "font": "Lato", "fontSize": 16, "radius": 170, "align": "center", "baseline": "middle", "color": "#000000"},
    "encoding": {"theta": {"datum": 0}, "text": {"field": "t"}}},
   {"data": {"values": [{"t": "180"}]}, "mark": {"type": "text", "font": "Lato", "fontSize": 16, "radius": 178, "align": "center", "baseline": "middle", "color": "#000000"},
    "encoding": {"theta": {"datum": 180}, "text": {"field": "t"}}},
   {"data": {"values": [{"t": "270"}]}, "mark": {"type": "text", "font": "Lato", "fontSize": 16, "radius": 161, "align": "center", "baseline": "middle", "color": "#000000"},
    "encoding": {"theta": {"datum": 270}, "text": {"field": "t"}}},
   {"data": {"values": [{"t": "Color"}]}, "mark": {"type": "text", "font": "Lato", "fontSize": 18, "radius": 209, "angle": 270, "align": "center", "baseline": "middle", "color": "#000000"},
    "encoding": {"theta": {"datum": 180}, "text": {"field": "t"}}},
   {"data": {"values": [{"t": "Total phosphorus"}]}, "mark": {"type": "text", "font": "Lato", "fontSize": 18, "radius": 191, "align": "center", "baseline": "middle", "color": "#000000"},
    "encoding": {"theta": {"datum": 270}, "text": {"field": "t"}}}
  ]
 }
],
"spacing": 30
}
